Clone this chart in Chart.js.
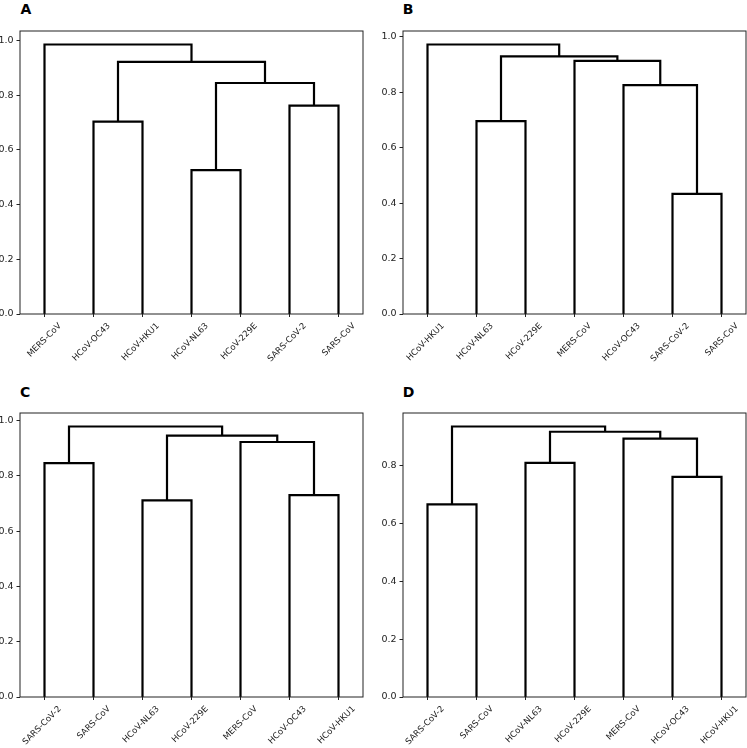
<!DOCTYPE html>
<html>
<head>
<meta charset="utf-8">
<script src="https://cdn.jsdelivr.net/npm/chart.js@4/dist/chart.umd.min.js"></script>
<style>
  body { margin: 0; background: #fff; }
  #fig { position: relative; width: 747px; height: 748px; overflow: hidden; background: #fff; }
  #fig canvas { position: absolute; }
  .tag { position: absolute; font: bold 14px "DejaVu Sans"; line-height: 1; color: #000; }
</style>
</head>
<body>
<div id="fig">
  <div class="tag" style="left:20.5px;top:1.7px">A</div>
  <div class="tag" style="left:402.8px;top:1.7px">B</div>
  <div class="tag" style="left:20px;top:385px">C</div>
  <div class="tag" style="left:402.8px;top:385px">D</div>
  <canvas id="chartA"></canvas>
  <canvas id="chartB"></canvas>
  <canvas id="chartC"></canvas>
  <canvas id="chartD"></canvas>
</div>
<script>
// leaf order along the x axis, and merges as [left node, right node, height]
// (nodes 0-6 are the leaves, 7+ are the clusters made by earlier merges)
const leavesA = ['MERS-CoV', 'HCoV-OC43', 'HCoV-HKU1', 'HCoV-NL63', 'HCoV-229E', 'SARS-CoV-2', 'SARS-CoV'];
const linksA = [[3, 4, 0.526], [1, 2, 0.704], [5, 6, 0.762], [7, 9, 0.845], [8, 10, 0.922], [0, 11, 0.986]];

const leavesB = ['HCoV-HKU1', 'HCoV-NL63', 'HCoV-229E', 'MERS-CoV', 'HCoV-OC43', 'SARS-CoV-2', 'SARS-CoV'];
const linksB = [[5, 6, 0.434], [1, 2, 0.696], [4, 7, 0.826], [3, 9, 0.914], [8, 10, 0.930], [0, 11, 0.973]];

const leavesC = ['SARS-CoV-2', 'SARS-CoV', 'HCoV-NL63', 'HCoV-229E', 'MERS-CoV', 'HCoV-OC43', 'HCoV-HKU1'];
const linksC = [[2, 3, 0.711], [5, 6, 0.730], [0, 1, 0.846], [4, 8, 0.922], [7, 10, 0.945], [9, 11, 0.978]];

const leavesD = ['SARS-CoV-2', 'SARS-CoV', 'HCoV-NL63', 'HCoV-229E', 'MERS-CoV', 'HCoV-OC43', 'HCoV-HKU1'];
const linksD = [[0, 1, 0.666], [5, 6, 0.761], [2, 3, 0.809], [4, 8, 0.893], [9, 10, 0.917], [7, 11, 0.935]];

const yTickStep = 0.2;

Chart.defaults.font.family = 'DejaVu Sans';
Chart.defaults.color = '#222';

const frame = {
    id: 'frame',
    afterDatasetsDraw(chart) {
        const a = chart.chartArea, ctx = chart.ctx;
        ctx.save();
        ctx.strokeStyle = '#222';
        ctx.lineWidth = 1;
        ctx.strokeRect(a.left, a.top, a.right - a.left, a.bottom - a.top);
        ctx.restore();
    }
};

function buildLinks(leaves, links) {
    let xs = leaves.map((_, i) => 10 * i + 5);
    let hs = leaves.map(() => 0);
    return links.map(([a, b, h]) => {
        let pts = [{ x: xs[a], y: hs[a] }, { x: xs[a], y: h }, { x: xs[b], y: h }, { x: xs[b], y: hs[b] }];
        xs.push((xs[a] + xs[b]) / 2);
        hs.push(h);
        return { data: pts, showLine: true, borderColor: '#000', borderWidth: 2.2, pointRadius: 0, fill: false };
    });
}

function drawPanel(id, leaves, links, box) {
    let canvas = document.getElementById(id);
    canvas.width = box.right - box.left + 44;
    canvas.height = box.bottom - box.top + 70;
    canvas.style.left = (box.left - 40) + 'px';
    canvas.style.top = (box.top - 10) + 'px';
    let top = Math.max(...links.map(l => l[2]));

    new Chart(canvas.getContext('2d'), {
        type: 'scatter',
        data: { datasets: buildLinks(leaves, links) },
        options: {
            responsive: false,
            animation: false,
            layout: { padding: { left: 0, right: 4, top: 10, bottom: 0 } },
            plugins: { legend: { display: false }, tooltip: { enabled: false } },
            scales: {
                x: {
                    type: 'linear', min: 0, max: leaves.length * 10,
                    afterBuildTicks: s => { s.ticks = leaves.map((_, i) => ({ value: 10 * i + 5 })); },
                    afterFit: s => { s.height = 60; },
                    border: { display: false },
                    grid: { drawOnChartArea: false, tickLength: 3, color: '#222' },
                    ticks: {
                        autoSkip: false, minRotation: 45, maxRotation: 45,
                        padding: 4, labelOffset: 15.5,
                        font: { size: 8.5 },
                        callback: v => leaves[(v - 5) / 10]
                    }
                },
                y: {
                    min: 0, max: top * 1.05,
                    afterFit: s => { s.width = 40; },
                    border: { display: false },
                    grid: { drawOnChartArea: false, tickLength: 3.5, color: '#222' },
                    ticks: {
                        stepSize: yTickStep, includeBounds: false, padding: 3,
                        font: { size: 9.5 },
                        callback: v => v.toFixed(1)
                    }
                }
            }
        },
        plugins: [frame]
    });
}

drawPanel('chartA', leavesA, linksA, { left: 20, top: 31, right: 363, bottom: 314 });
drawPanel('chartB', leavesB, linksB, { left: 403, top: 31, right: 746, bottom: 314 });
drawPanel('chartC', leavesC, linksC, { left: 20, top: 413, right: 363, bottom: 697 });
drawPanel('chartD', leavesD, linksD, { left: 403, top: 413, right: 746, bottom: 697 });
</script>
</body>
</html>
